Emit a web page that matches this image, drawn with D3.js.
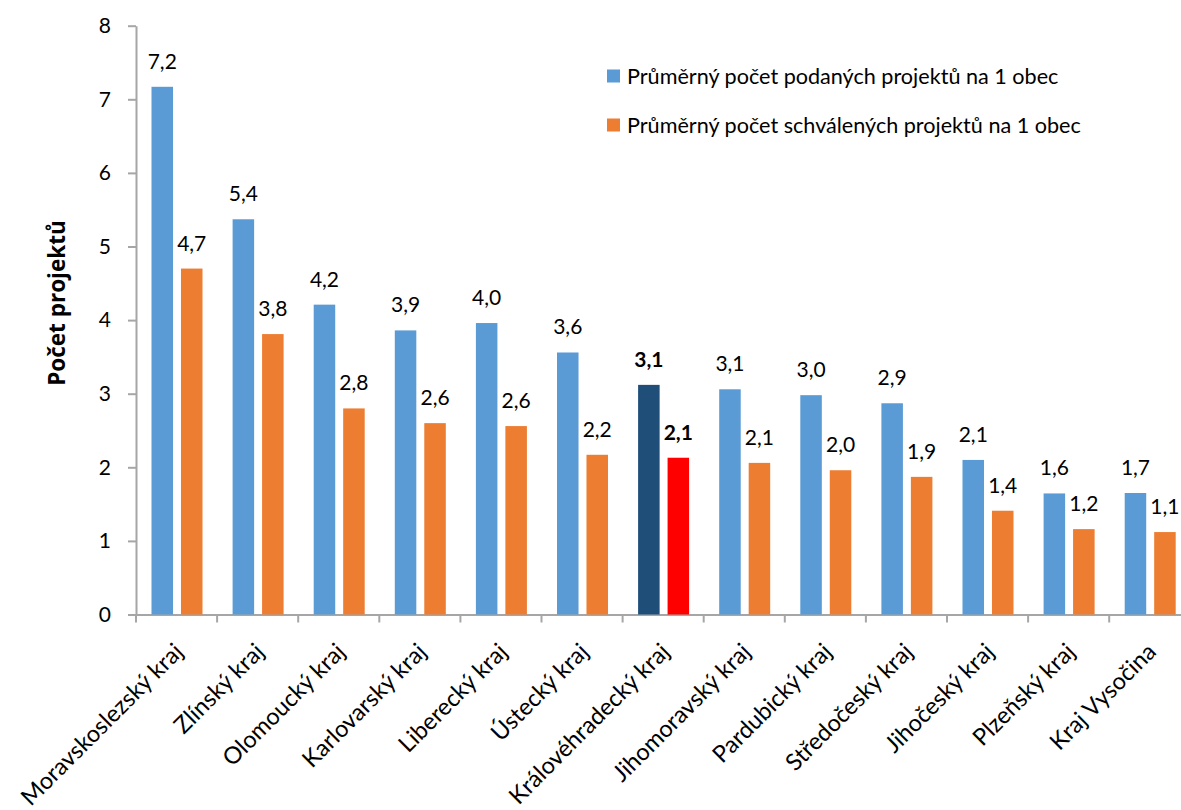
<!DOCTYPE html>
<html>
<head>
<meta charset="utf-8">
<script src="https://cdn.jsdelivr.net/npm/d3@7"></script>
<style>
  body { margin: 0; background: #fff; }
  svg { display: block; font-family: Lato, "Open Sans", sans-serif; }
</style>
</head>
<body>
<div id="wrapper"></div>
<script>
// categories and values
const regions = ["Moravskoslezský kraj", "Zlínský kraj", "Olomoucký kraj", "Karlovarský kraj",
  "Liberecký kraj", "Ústecký kraj", "Královéhradecký kraj", "Jihomoravský kraj",
  "Pardubický kraj", "Středočeský kraj", "Jihočeský kraj", "Plzeňský kraj", "Kraj Vysočina"]
const submitted = [7.17, 5.37, 4.21, 3.86, 3.96, 3.56, 3.12, 3.06, 2.98, 2.87, 2.10, 1.645, 1.651]
const approved = [4.70, 3.81, 2.80, 2.60, 2.56, 2.17, 2.13, 2.06, 1.96, 1.87, 1.41, 1.16, 1.12]
const seriesNames = ["Průměrný počet podaných projektů na 1 obec", "Průměrný počet schválených projektů na 1 obec"]
const yTicks = [0, 1, 2, 3, 4, 5, 6, 7, 8]
const highlighted = "Královéhradecký kraj"

const colors = ["#5B9BD5", "#ED7D31"]
const highlightColors = ["#1F4E79", "#FF0000"]
const axisColor = "#A6A6A6"

// 1. dims
const dims = { width: 1181, height: 810 }
const x0Left = 136, x0Right = 1190.3
const yTop = 25.7, yBottom = 614.5

// 2. canvas
const svg = d3.select("#wrapper").append("svg")
  .attr("width", dims.width)
  .attr("height", dims.height)

// 3. scales
const xScale = d3.scaleBand()
  .domain(regions)
  .range([x0Left, x0Right])
  .padding(0)

const xInner = d3.scaleBand()
  .domain([0, 1])
  .range([15.5, 66.5])
  .paddingInner(0.27)

const yScale = d3.scaleLinear()
  .domain([0, 8])
  .range([yBottom, yTop])

const locale = d3.formatLocale({ decimal: ",", thousands: " ", grouping: [3], currency: ["", ""] })
const fmt = locale.format(".1f")

// 4. data rows
const rows = regions.map((r, i) => ({ region: r, values: [submitted[i], approved[i]] }))

// 5. axes
const yAxis = svg.append("g")
  .attr("transform", `translate(${x0Left},0)`)
  .call(d3.axisLeft(yScale).tickValues(yTicks).tickSize(8).tickSizeOuter(0).tickPadding(17))
yAxis.select(".domain").attr("stroke", axisColor).attr("stroke-width", 2)
yAxis.selectAll(".tick line").attr("stroke", axisColor).attr("stroke-width", 2)
yAxis.selectAll(".tick text")
  .attr("font-size", 21)
  .attr("fill", "#000")
  .attr("font-family", "Lato, sans-serif")

const xAxis = svg.append("g")
  .attr("transform", `translate(0,${yBottom})`)
  .call(d3.axisBottom(xScale).tickSize(8).tickSizeOuter(0).tickFormat(""))
xAxis.select(".domain").attr("stroke", axisColor).attr("stroke-width", 2)
xAxis.selectAll(".tick line")
  .attr("stroke", axisColor).attr("stroke-width", 2)
  .attr("x1", -xScale.step() / 2).attr("x2", -xScale.step() / 2)
xAxis.selectAll(".tick text").remove()

// category labels, rotated
svg.append("g").selectAll("text")
  .data(regions)
  .join("text")
  .attr("transform", d => `translate(${xScale(d) + xScale.bandwidth() / 2 + 2},${yBottom + 33}) rotate(-45)`)
  .attr("text-anchor", "end")
  .attr("dy", "0.35em")
  .attr("font-size", 23.5)
  .attr("fill", "#000")
  .text(d => d)

// 6. bars
const groups = svg.append("g").selectAll("g")
  .data(rows)
  .join("g")
  .attr("transform", d => `translate(${xScale(d.region)},0)`)

groups.selectAll("rect")
  .data(d => d.values.map((v, j) => ({ v, j, hi: d.region === highlighted })))
  .join("rect")
  .attr("x", d => xInner(d.j))
  .attr("width", xInner.bandwidth())
  .attr("y", d => yScale(d.v))
  .attr("height", d => yBottom - yScale(d.v))
  .attr("fill", d => d.hi ? highlightColors[d.j] : colors[d.j])

groups.selectAll("text")
  .data(d => d.values.map((v, j) => ({ v, j, hi: d.region === highlighted })))
  .join("text")
  .attr("x", d => xInner(d.j) + xInner.bandwidth() / 2)
  .attr("y", d => yScale(d.v) - 18)
  .attr("text-anchor", "middle")
  .attr("font-size", 21)
  .attr("font-weight", d => d.hi ? "bold" : "normal")
  .attr("fill", "#000")
  .text(d => fmt(d.v))

// 7. y title
svg.append("text")
  .attr("transform", "translate(65,303) rotate(-90)")
  .attr("text-anchor", "middle")
  .attr("font-family", "'Open Sans', sans-serif")
  .attr("font-size", 22.5)
  .attr("font-weight", "bold")
  .attr("fill", "#000")
  .text("Počet projektů")

// 8. legend
const legend = svg.append("g")
  .attr("transform", "translate(607,0)")
const legendY = [76, 125]
seriesNames.forEach((name, i) => {
  legend.append("rect")
    .attr("x", 0).attr("y", legendY[i] - 6.5)
    .attr("width", 13).attr("height", 13)
    .attr("fill", colors[i])
  legend.append("text")
    .attr("x", 20).attr("y", legendY[i] + 8)
    .attr("font-size", 21.6)
    .attr("fill", "#000")
    .text(name)
})
</script>
</body>
</html>
